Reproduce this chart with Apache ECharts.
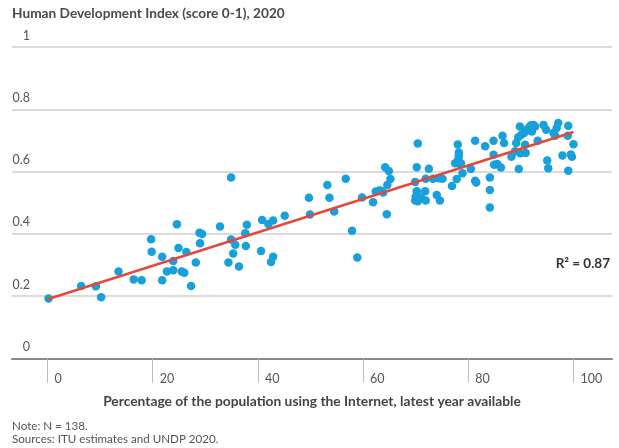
<!DOCTYPE html>
<html>
<head>
<meta charset="utf-8">
<script src="https://cdn.jsdelivr.net/npm/echarts@6/dist/echarts.min.js"></script>
<style>
  html, body { margin: 0; padding: 0; background: #fff; }
  #chart { width: 619px; height: 448px; }
</style>
</head>
<body>
<div id="chart"></div>
<script>
// ===== Data =====
const internetPct = [
  0.2, 6.4, 9.2, 10.2, 13.5, 16.4, 17.9, 19.7, 19.8, 21.8, 21.8, 22.7, 23.9, 23.9, 24.6, 24.9, 25.5, 26.0, 26.4, 27.3, 28.2, 28.9, 29.4, 29.0, 32.8,
  34.9, 34.9, 35.7, 35.3, 34.4, 36.4, 37.6, 37.9, 37.7, 40.6, 40.8, 42.0, 42.9, 42.9, 42.5, 45.1, 49.7, 49.9, 53.2, 53.6, 54.5, 56.7,
  57.9, 58.9, 59.8, 61.9, 62.4, 63.1, 63.8, 64.5, 64.2, 64.9, 65.2, 64.6, 63.5,
  70.4, 70.2, 69.9, 70.2, 69.9, 70.4, 71.0, 71.9, 71.8, 71.9, 72.5, 73.3, 74.0, 74.6, 74.4, 75.1, 76.9, 77.8, 78.0, 78.2, 78.2, 77.5, 78.3, 78.6, 78.9, 78.1, 70.0,
  80.5, 81.3, 81.3, 81.5, 83.2, 84.1, 84.1, 84.1, 84.8, 84.8, 84.9, 85.5, 86.2, 86.5, 86.8, 88.2, 88.9, 89.1, 89.6, 89.8, 89.9, 90.1, 90.8, 90.6, 91.3, 91.9, 92.4, 92.1, 93.2, 94.3, 94.8, 95.0, 95.2, 96.2, 96.8, 97.1, 96.5, 97.9, 99.0, 98.9, 100, 99.7, 99.0,
  90.9, 91.6, 92.7, 99.5, 89.5, 91.0
];
const hdiScore = [
  0.193, 0.233, 0.232, 0.197, 0.279, 0.254, 0.251, 0.383, 0.343, 0.327, 0.251, 0.279, 0.283, 0.313, 0.431, 0.355, 0.279, 0.275, 0.342, 0.233, 0.308, 0.404, 0.400, 0.370, 0.424,
  0.581, 0.382, 0.365, 0.337, 0.308, 0.295, 0.402, 0.429, 0.361, 0.345, 0.445, 0.432, 0.443, 0.327, 0.310, 0.458, 0.516, 0.462, 0.557, 0.516, 0.472, 0.577,
  0.410, 0.324, 0.517, 0.502, 0.536, 0.539, 0.533, 0.463, 0.614, 0.602, 0.576, 0.557, 0.538,
  0.690, 0.614, 0.567, 0.537, 0.507, 0.505, 0.518, 0.507, 0.537, 0.577, 0.609, 0.577, 0.525, 0.507, 0.579, 0.577, 0.554, 0.576, 0.687, 0.661, 0.651, 0.627, 0.625, 0.627, 0.595, 0.640, 0.520,
  0.608, 0.699, 0.571, 0.565, 0.681, 0.581, 0.541, 0.485, 0.699, 0.654, 0.622, 0.624, 0.613, 0.715, 0.692, 0.648, 0.665, 0.692, 0.608, 0.745, 0.659, 0.718, 0.686, 0.724, 0.737, 0.749, 0.750, 0.729, 0.699, 0.750, 0.734, 0.636, 0.611, 0.724, 0.740, 0.756, 0.715, 0.652, 0.747, 0.715, 0.688, 0.648, 0.603,
  0.660, 0.742, 0.745, 0.655, 0.710, 0.730
];

// trend line end points
const trendX = [0, 100];
const trendY = [0.19, 0.727];

const xTicks = [0, 20, 40, 60, 80, 100];
const r2Label = 'R² = 0.87';

// ===== Chart =====
const FONT = 'Lato, "Noto Sans", sans-serif';
const chart = echarts.init(document.getElementById('chart'), null, { renderer: 'canvas' });

const points = internetPct.map((x, i) => [x, hdiScore[i]]);
const trend  = trendX.map((x, i) => [x, trendY[i]]);

chart.setOption({
  animation: false,
  textStyle: { fontFamily: FONT },
  title: [
    {
      text: 'Human Development Index (score 0-1), 2020',
      left: 12, top: 7, padding: 0,
      textStyle: { fontFamily: FONT, fontSize: 13.7, fontWeight: 'bold', color: '#4a4a4a' }
    },
    {
      text: 'Note: N = 138.\nSources: ITU estimates and UNDP 2020.',
      left: 12, top: 420, padding: 0,
      textStyle: { fontFamily: FONT, fontSize: 11.6, fontWeight: 'normal', lineHeight: 12.5, color: '#555' }
    }
  ],
  graphic: [{
    type: 'text', right: 9, top: 257,
    style: { text: r2Label, font: 'bold 13.5px ' + FONT, fill: '#333' }
  }],
  grid: { left: 12, right: 7, top: 47, bottom: 89.5, containLabel: false, outerBoundsMode: 'none' },
  xAxis: {
    type: 'value',
    min: -6.75, max: 107.32,
    name: 'Percentage of the population using the Internet, latest year available',
    nameLocation: 'middle',
    nameGap: 36,
    nameTextStyle: { fontFamily: FONT, fontSize: 13.8, fontWeight: 'bold', color: '#444' },
    axisLine: { show: true, lineStyle: { color: '#888', width: 2 } },
    axisTick: { show: true, customValues: xTicks, length: 24, lineStyle: { color: '#bbb', width: 1 } },
    axisLabel: { customValues: xTicks, align: 'left', padding: [0, 0, 0, 7], margin: 14, fontSize: 12.5, color: '#555', fontFamily: FONT },
    splitLine: { show: false }
  },
  yAxis: {
    type: 'value',
    min: 0, max: 1, interval: 0.2,
    axisLine: { show: false },
    axisTick: { show: false },
    axisLabel: {
      inside: true, align: 'right', margin: 18, verticalAlign: 'bottom',
      padding: [0, 0, 5, 0], fontSize: 12.5, color: '#555', fontFamily: FONT,
      formatter: v => String(+v.toFixed(1))
    },
    splitLine: { lineStyle: { color: '#cfcfcf', width: 1.5 } }
  },
  series: [
    {
      type: 'scatter',
      data: points,
      symbolSize: 8.5,
      itemStyle: { color: '#17a0db', opacity: 1 }
    },
    {
      type: 'line',
      data: trend,
      symbol: 'none',
      z: 3,
      lineStyle: { color: '#e5483b', width: 2.5 }
    }
  ]
});
</script>
</body>
</html>
